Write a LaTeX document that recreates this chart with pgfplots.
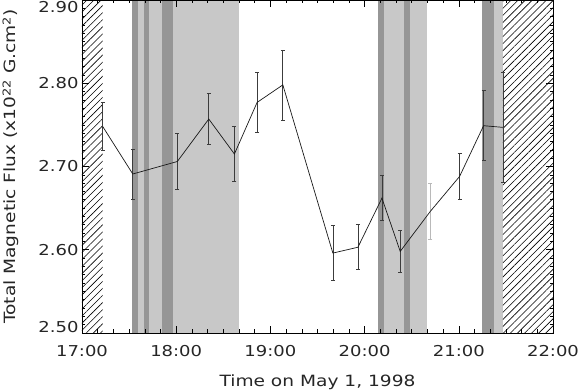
\documentclass[border=0pt]{standalone}
\usepackage{pgfplots}
\usepackage{pgfplotstable}
\pgfplotsset{compat=1.18}
\usetikzlibrary{patterns.meta}
\usepackage{fontspec}
\setmainfont{DejaVu Sans}[FakeStretch=1.2]
\definecolor{bandlight}{RGB}{200,200,200}
\definecolor{banddark}{RGB}{150,150,150}
\definecolor{errdark}{RGB}{60,60,60}
\definecolor{errlight}{RGB}{185,185,185}

% time (hours), flux (1e22 G.cm^2), error
\pgfplotstableread{
t      v      e
17.220 2.748 0.029
17.539 2.691 0.030
18.012 2.706 0.034
18.346 2.757 0.031
18.618 2.715 0.033
18.859 2.777 0.036
19.132 2.798 0.042
19.663 2.596 0.033
19.929 2.603 0.027
20.184 2.662 0.027
20.378 2.598 0.025
20.697 2.646 0.034
21.008 2.688 0.028
21.263 2.749 0.042
21.469 2.747 0.066
}\fluxdata

\newcommand{\band}[3]{\addplot[fill=#1, draw=none, forget plot] coordinates {(#2,2.9) (#3,2.9)} \closedcycle;}
\newcommand{\shiftlab}[2]{\raisebox{#1}[\height][\depth]{#2}}

\begin{document}
\begin{tikzpicture}
\begin{axis}[
    name=ax,
    scale only axis,
    width=471pt, height=333pt,
    xmin=17, xmax=22, ymin=2.5, ymax=2.9,
    axis on top,
    axis line style={line width=0.8pt},
    tick align=inside,
    major tick length=7pt, minor tick length=3.5pt,
    every tick/.style={black, line width=0.6pt},
    xtick={17,18,19,20,21,22},
    xticklabels={17:00,18:00,19:00,20:00,21:00,22:00},
    minor x tick num=5,
    ytick={2.5,2.6,2.7,2.8,2.9},
    yticklabels={\shiftlab{6pt}{2.50},2.60,2.70,2.80,\shiftlab{-7pt}{2.90}},
    minor y tick num=9,
    tick label style={font=\fontsize{15}{18}\selectfont, black!85},
    xticklabel style={yshift=-8.5pt},
    label style={font=\fontsize{15.5}{18}\selectfont, black!85},
    xlabel={Time on May 1, 1998},
    ylabel={Total Magnetic Flux (x10\textsuperscript{22} G.cm\textsuperscript{2})},
    xlabel style={at={(axis description cs:0.5,-0.147)}, anchor=center},
    ylabel style={at={(axis description cs:-0.151,0.5)}, anchor=center},
]
% flare / observation intervals
\band{bandlight}{17.528}{18.664}
\band{banddark}{17.528}{17.592}
\band{banddark}{17.659}{17.712}
\band{banddark}{17.847}{17.963}
\band{bandlight}{20.144}{20.662}
\band{banddark}{20.144}{20.208}
\band{banddark}{20.413}{20.477}
\band{bandlight}{21.246}{21.469}
\band{banddark}{21.246}{21.377}
% no data
\addplot[pattern={Lines[angle=45,distance=5pt,line width=0.6pt]}, draw=none, forget plot]
    coordinates {(17.0,2.9) (17.22,2.9)} \closedcycle;
\addplot[pattern={Lines[angle=45,distance=5pt,line width=0.6pt]}, draw=none, forget plot]
    coordinates {(21.469,2.9) (22.0,2.9)} \closedcycle;
% error bars
\addplot[draw=none, mark=none, forget plot,
    error bars/.cd, y dir=both, y explicit,
    error mark options={rotate=90, mark size=2pt, line width=0.7pt, draw=errdark},
    error bar style={line width=0.7pt, draw=errdark}]
    table[x=t, y=v, y error=e, skip coords between index={11}{12}] {\fluxdata};
\addplot[draw=none, mark=none, forget plot,
    error bars/.cd, y dir=both, y explicit,
    error mark options={rotate=90, mark size=2pt, line width=0.7pt, draw=errlight},
    error bar style={line width=0.7pt, draw=errlight}]
    table[x=t, y=v, y error=e, restrict expr to domain={\coordindex}{11:11}] {\fluxdata};
% flux curve
\addplot[black!90, line width=0.7pt, mark=none] table[x=t, y=v] {\fluxdata};
\end{axis}
\pgfresetboundingbox
\path (ax.south west) ++(-82pt,-58pt) coordinate (bl);
\path (ax.north east) ++(25pt,0pt) coordinate (tr);
\useasboundingbox (bl) rectangle (tr);
\end{tikzpicture}
\end{document}
